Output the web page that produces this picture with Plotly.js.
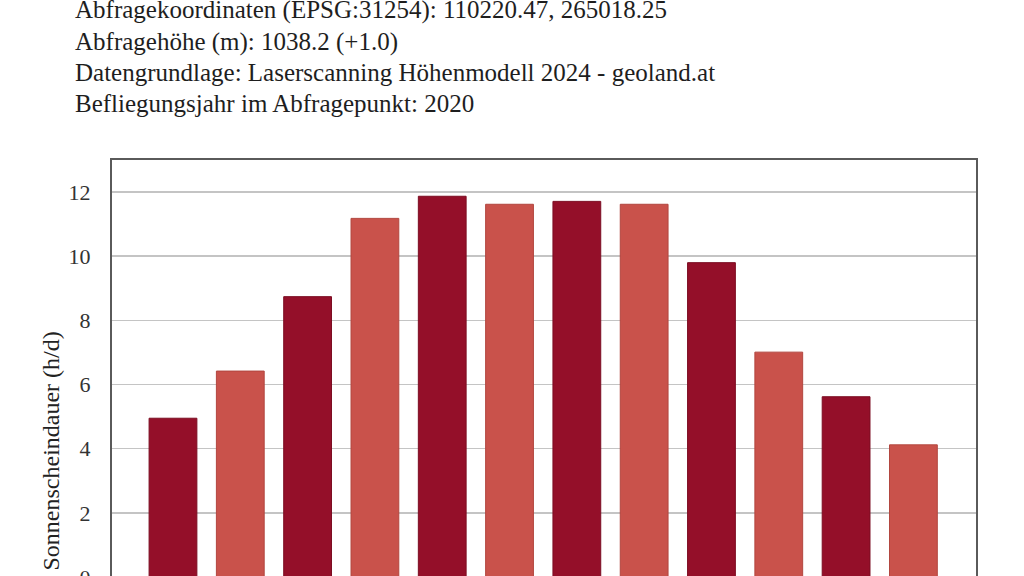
<!DOCTYPE html>
<html>
<head>
<meta charset="utf-8">
<script src="https://cdn.plot.ly/plotly-3.0.1.min.js"></script>
<style>
html,body{margin:0;padding:0;background:#fff;overflow:hidden;width:1024px;height:576px;}
#chart{width:1024px;height:600px;}
</style>
</head>
<body>
<div id="chart"></div>
<script>
const months = ["Jän", "Feb", "Mär", "Apr", "Mai", "Jun", "Jul", "Aug", "Sep", "Okt", "Nov", "Dez"];
const sunHours = [4.95, 6.42, 8.74, 11.18, 11.87, 11.62, 11.71, 11.62, 9.80, 7.01, 5.62, 4.12];
const infoLines = [
  "Abfragekoordinaten (EPSG:31254): 110220.47, 265018.25",
  "Abfragehöhe (m): 1038.2 (+1.0)",
  "Datengrundlage: Laserscanning Höhenmodell 2024 - geoland.at",
  "Befliegungsjahr im Abfragepunkt: 2020"
];
const yTitle = "Sonnenscheindauer (h/d)";

// The reference is a crop of a taller chart: the plot runs past the bottom edge of the window.
const W = 1024, H = 600;
const M = {l: 112, r: 48, t: 160, b: 23};
const PW = W - M.l - M.r, PH = H - M.t - M.b;
const px = x => (x - M.l) / PW;
const py = y => (H - M.b - y) / PH;

const darkRed = "#940f29", lightRed = "#c9524b";
const darkEdge = "#7c0d22", lightEdge = "#b2463f";
const barColors = sunHours.map((_, i) => i % 2 === 0 ? darkRed : lightRed);
const edgeColors = sunHours.map((_, i) => i % 2 === 0 ? darkEdge : lightEdge);

const font = "'Liberation Serif', 'DejaVu Serif', serif";
const lineY = [10, 42, 73, 104];

const annotations = infoLines.map((t, i) => ({
  text: t, xref: "paper", yref: "paper", x: px(73), y: py(lineY[i]),
  xanchor: "left", yanchor: "middle", showarrow: false,
  font: {family: font, size: 25, color: "#1e1e1e"}
}));
annotations.push({
  text: yTitle, xref: "paper", yref: "paper", x: px(50), y: py(330),
  xanchor: "center", yanchor: "top", showarrow: false, textangle: -90,
  font: {family: font, size: 24, color: "#222"}
});

const trace = {
  type: "bar", x: months, y: sunHours, width: 0.71,
  marker: {color: barColors, line: {color: edgeColors, width: 1}},
  hoverinfo: "skip"
};

const layout = {
  width: W, height: H,
  margin: M,
  paper_bgcolor: "#fff", plot_bgcolor: "#fff",
  showlegend: false,
  font: {family: font, size: 22, color: "#333"},
  xaxis: {
    type: "category", range: [-0.906, 11.93], showticklabels: false,
    showgrid: false, zeroline: false, ticks: "",
    showline: true, mirror: true, linecolor: "#5a5a5a", linewidth: 2
  },
  yaxis: {
    range: [0, 13], tickvals: [0, 2, 4, 6, 8, 10, 12],
    showgrid: true, gridcolor: "#c4c4c4", gridwidth: 1.5, zeroline: false,
    showline: true, mirror: true, linecolor: "#5a5a5a", linewidth: 2,
    ticks: "", ticklabelstandoff: 15,
    tickfont: {family: font, size: 22, color: "#333"}
  },
  annotations: annotations
};

Plotly.newPlot("chart", [trace], layout, {staticPlot: true, displayModeBar: false});
</script>
</body>
</html>
